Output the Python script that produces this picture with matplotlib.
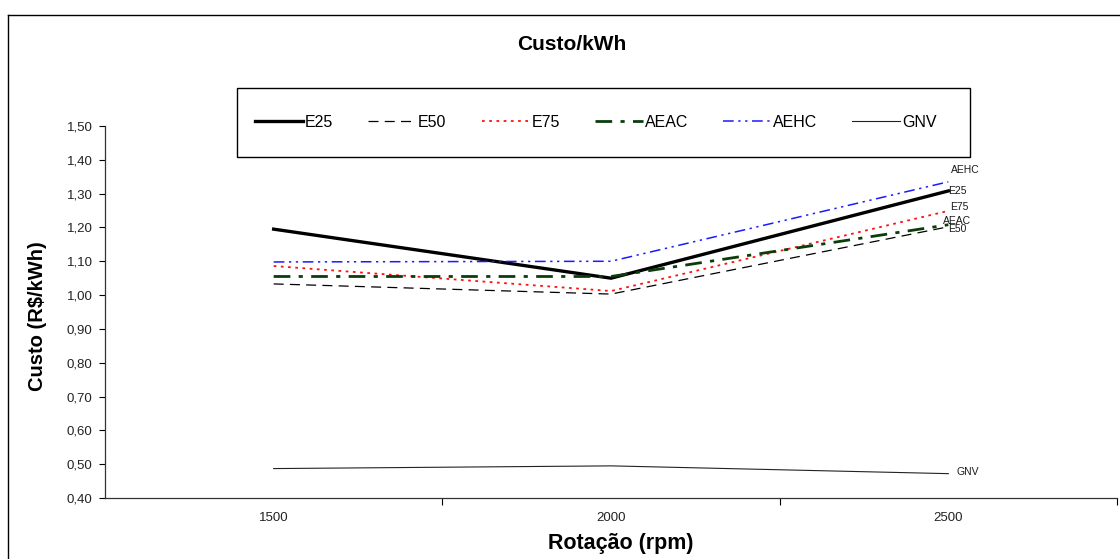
import matplotlib
matplotlib.use("Agg")
import matplotlib.pyplot as plt
from matplotlib.lines import Line2D
from matplotlib.patches import Rectangle
import numpy as np

plt.rcParams['font.family'] = ['Liberation Sans', 'DejaVu Sans']

rotacoes = ["1500", "2000", "2500"]
series_names = ["E25", "E50", "E75", "AEAC", "AEHC", "GNV"]
e25 = [1.195, 1.050, 1.308]
e50 = [1.033, 1.003, 1.202]
e75 = [1.086, 1.012, 1.249]
aeac = [1.055, 1.055, 1.208]
aehc = [1.098, 1.100, 1.335]
gnv = [0.487, 0.495, 0.472]
y_ticks = [0.40, 0.50, 0.60, 0.70, 0.80, 0.90, 1.00, 1.10, 1.20, 1.30, 1.40, 1.50]

styles = {
    "E25": dict(color="black", lw=2.4, ls="-"),
    "E50": dict(color="black", lw=0.9, ls=(0, (8, 5))),
    "E75": dict(color="#ff1010", lw=1.3, ls=(0, (1.5, 2.5))),
    "AEAC": dict(color="#0a3d0a", lw=2.0, ls=(0, (6, 3, 1.5, 3))),
    "AEHC": dict(color="#1a1aff", lw=1.1, ls=(0, (7, 3, 1.5, 3, 1.5, 3))),
    "GNV": dict(color="#222222", lw=0.8, ls="-"),
}
values = dict(zip(series_names, [e25, e50, e75, aeac, aehc, gnv]))
# end-of-line label offsets (points) to keep the tags readable
label_offsets = {"E25": (0, 0), "E50": (0, -1.5), "E75": (1, 2.5), "AEAC": (-4, 2.5),
                 "AEHC": (2, 8.5), "GNV": (6, 1.5)}

W, H = 1120, 559
fig = plt.figure(figsize=(W / 100, H / 100), dpi=100)
ax = fig.add_axes([105 / W, 1 - 498 / H, (1117 - 105) / W, (498 - 126) / H])

x = np.arange(len(rotacoes))
handles = []
for name in series_names:
    h, = ax.plot(x, values[name], **styles[name], label=name)
    handles.append(h)
    ax.annotate(name, (x[-1], values[name][-1]), xytext=label_offsets[name],
                textcoords="offset points", fontsize=7.5, color="#1a1a1a",
                ha="left", va="center")

ax.set_xlim(-0.5, len(rotacoes) - 0.5)
ax.set_ylim(0.40, 1.50)
ax.set_yticks(y_ticks)
ax.set_yticklabels([f"{v:.2f}".replace(".", ",") for v in y_ticks], fontsize=9.5, color="#222222")
ax.set_xticks(x)
ax.set_xticklabels(rotacoes, fontsize=9.5, color="#222222")
ax.set_xticks(np.arange(len(rotacoes)) + 0.5, minor=True)
ax.tick_params(axis="x", which="major", length=0, pad=10)
ax.tick_params(axis="x", which="minor", length=5, direction="out", width=0.8)
ax.tick_params(axis="y", length=4, direction="out", width=0.8, pad=5)
for s in ["top", "right"]:
    ax.spines[s].set_visible(False)
for s in ["left", "bottom"]:
    ax.spines[s].set_linewidth(0.9)
    ax.spines[s].set_color("#333333")

span_x = 1117 - 105
span_y = 498 - 126
ax.set_ylabel("Custo (R$/kWh)", fontsize=14.5, fontweight="bold")
ax.yaxis.set_label_coords((47 - 105) / span_x, 0.49)
ax.set_xlabel("Rotação (rpm)", fontsize=15.5, fontweight="bold")
ax.xaxis.set_label_coords((621 - 105) / span_x, -(533 - 498) / span_y)
fig.text(572 / W, 1 - 44 / H, "Custo/kWh", fontsize=15, fontweight="bold",
         ha="center", va="center")

# legend box
fig.add_artist(Rectangle((237 / W, 1 - 157 / H), (970 - 237) / W, (157 - 88) / H,
                         transform=fig.transFigure, fill=False, edgecolor="black", lw=1.0))
leg = fig.legend(handles=handles, loc="center left", ncol=6,
                 bbox_to_anchor=(255 / W, 1 - 122.5 / H), fontsize=11.5,
                 frameon=False, handlelength=3.0, handletextpad=0.12,
                 columnspacing=2.2, borderpad=0, borderaxespad=0)

# chart frame
fig.add_artist(Line2D([8 / W, 8 / W], [0, 1 - 15 / H], color="black", lw=1.0,
                      transform=fig.transFigure))
fig.add_artist(Line2D([8 / W, 1], [1 - 15 / H, 1 - 15 / H], color="black", lw=1.0,
                      transform=fig.transFigure))

fig.savefig("out.png", dpi=100)
